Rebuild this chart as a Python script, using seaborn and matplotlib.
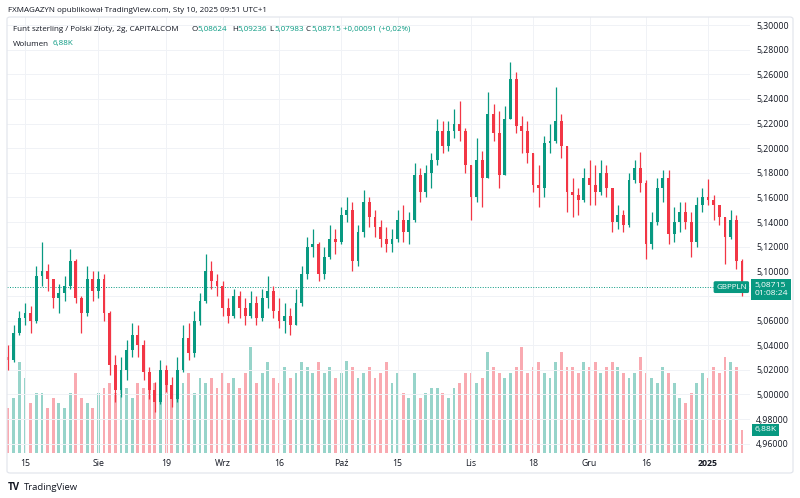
import numpy as np
import pandas as pd
import matplotlib.pyplot as plt
import matplotlib.transforms as mtransforms
from matplotlib.patches import FancyBboxPatch
import seaborn as sns

sns.set_theme(style="white")
plt.rcParams['font.family'] = ['Open Sans', 'DejaVu Sans']

# ---- data: daily GBPPLN candles, Jul 10 2024 -> Jan 10 2025 ----
first_open = 5.030
closes = [
    5.028, 5.050, 5.062, 5.066, 5.060, 5.096, 5.100, 5.094, 5.078, 5.082,
    5.088, 5.108, 5.078, 5.066, 5.094, 5.084, 5.094, 5.066, 5.024, 5.004,
    5.020, 5.036, 5.048, 5.040, 5.018, 5.004, 4.994, 5.020, 5.008, 4.996,
    5.020, 5.046, 5.034, 5.060, 5.076, 5.100, 5.092, 5.088, 5.070, 5.064,
    5.080, 5.070, 5.064, 5.074, 5.062, 5.078, 5.084, 5.068, 5.060, 5.064,
    5.056, 5.074, 5.098, 5.120, 5.122, 5.098, 5.112, 5.126, 5.124, 5.146,
    5.150, 5.108, 5.132, 5.156, 5.144, 5.136, 5.126, 5.122, 5.126, 5.142,
    5.132, 5.142, 5.178, 5.164, 5.180, 5.190, 5.214, 5.202, 5.214, 5.220,
    5.214, 5.186, 5.160, 5.190, 5.176, 5.228, 5.212, 5.178, 5.224, 5.256,
    5.218, 5.214, 5.196, 5.170, 5.168, 5.204, 5.206, 5.222, 5.202, 5.164,
    5.162, 5.158, 5.176, 5.170, 5.164, 5.180, 5.168, 5.140, 5.146, 5.138,
    5.174, 5.184, 5.172, 5.122, 5.140, 5.168, 5.176, 5.130, 5.140, 5.148,
    5.140, 5.124, 5.154, 5.160, 5.158, 5.154, 5.144, 5.128, 5.142, 5.108,
    5.08715]
highs = [
    5.040, 5.056, 5.068, 5.074, 5.072, 5.104, 5.124, 5.106, 5.092, 5.090,
    5.096, 5.118, 5.110, 5.080, 5.104, 5.100, 5.100, 5.098, 5.068, 5.032,
    5.030, 5.044, 5.058, 5.056, 5.044, 5.022, 5.010, 5.028, 5.024, 5.014,
    5.030, 5.056, 5.058, 5.068, 5.082, 5.114, 5.108, 5.098, 5.092, 5.078,
    5.086, 5.084, 5.078, 5.084, 5.080, 5.086, 5.096, 5.088, 5.078, 5.074,
    5.070, 5.086, 5.104, 5.128, 5.134, 5.124, 5.120, 5.138, 5.134, 5.152,
    5.160, 5.156, 5.138, 5.166, 5.160, 5.150, 5.142, 5.136, 5.134, 5.150,
    5.154, 5.148, 5.188, 5.184, 5.186, 5.196, 5.224, 5.222, 5.222, 5.232,
    5.238, 5.216, 5.184, 5.208, 5.198, 5.246, 5.236, 5.230, 5.234, 5.270,
    5.262, 5.226, 5.222, 5.196, 5.186, 5.210, 5.220, 5.250, 5.228, 5.200,
    5.176, 5.168, 5.184, 5.190, 5.186, 5.190, 5.186, 5.164, 5.154, 5.150,
    5.180, 5.190, 5.197, 5.174, 5.148, 5.176, 5.182, 5.182, 5.152, 5.156,
    5.156, 5.148, 5.160, 5.168, 5.175, 5.162, 5.154, 5.142, 5.150, 5.146,
    5.110]
lows = [
    5.020, 5.026, 5.048, 5.056, 5.050, 5.058, 5.088, 5.084, 5.070, 5.066,
    5.076, 5.086, 5.074, 5.050, 5.064, 5.076, 5.078, 5.060, 5.016, 4.994,
    4.998, 5.012, 5.030, 5.030, 5.012, 4.996, 4.986, 4.992, 5.002, 4.990,
    4.994, 5.018, 5.028, 5.030, 5.056, 5.074, 5.086, 5.080, 5.064, 5.058,
    5.062, 5.062, 5.056, 5.062, 5.056, 5.060, 5.070, 5.062, 5.054, 5.050,
    5.048, 5.056, 5.072, 5.094, 5.112, 5.092, 5.094, 5.110, 5.114, 5.122,
    5.140, 5.100, 5.104, 5.128, 5.136, 5.128, 5.120, 5.116, 5.116, 5.124,
    5.124, 5.122, 5.140, 5.156, 5.160, 5.168, 5.186, 5.196, 5.198, 5.208,
    5.206, 5.180, 5.142, 5.156, 5.152, 5.180, 5.206, 5.168, 5.180, 5.226,
    5.212, 5.196, 5.188, 5.164, 5.152, 5.160, 5.196, 5.204, 5.192, 5.148,
    5.144, 5.146, 5.156, 5.154, 5.154, 5.162, 5.160, 5.132, 5.134, 5.132,
    5.136, 5.172, 5.164, 5.110, 5.118, 5.138, 5.156, 5.122, 5.124, 5.132,
    5.134, 5.112, 5.120, 5.148, 5.154, 5.142, 5.138, 5.106, 5.126, 5.102,
    5.0798]
volumes = [  # thousands
    13.5, 16.5, 27, 22.5, 15, 18, 18, 13.5, 16.5, 15,
    13.5, 18, 24, 16.5, 15, 13.5, 18, 19.5, 21, 18,
    22.5, 19.5, 16.5, 21, 19.5, 24, 21, 18, 22.5, 19.5,
    21, 21, 24, 18, 22.5, 21, 22.5, 19.5, 24, 21,
    22.5, 19.5, 24, 31.5, 21, 24, 27, 22.5, 21, 25.5,
    22.5, 24, 27, 25.5, 24, 27, 24, 25.5, 22.5, 24,
    27.5, 25.5, 22.5, 24, 25.5, 22.5, 24, 27, 21, 24,
    18, 16.5, 24, 16.5, 18, 19.5, 19.5, 18, 16.5, 19.5,
    21, 24, 24, 21, 22.5, 30, 25.5, 24, 22.5, 24,
    25.5, 31.5, 24, 25.5, 27, 24, 22.5, 27, 30, 25.5,
    25.5, 24, 27, 25.5, 27, 24, 25.5, 27, 25.5, 24,
    22.5, 24, 28.5, 24, 22.5, 21, 25.5, 24, 21, 16.5,
    15, 18, 21, 24, 22.5, 25.5, 24, 28.5, 27, 25.5,
    6.88]

tick_idx = [3, 16, 28, 38, 48, 59, 69, 82, 93, 103, 113, 124]
tick_labels = ['15', 'Sie', '19', 'Wrz', '16', 'Paź', '15', 'Lis', '18', 'Gru', '16', '2025']
price_ticks = [4.96, 4.98, 5.00, 5.02, 5.04, 5.06, 5.08, 5.10, 5.12, 5.14,
               5.16, 5.18, 5.20, 5.22, 5.24, 5.26, 5.28, 5.30]

UP, DOWN, TXT, GRID = '#089981', '#F23645', '#131722', '#F0F2F6'
FS = 5.8

df = pd.DataFrame({'close': closes, 'high': highs, 'low': lows, 'volume': volumes})
df['open'] = [first_open] + closes[:-1]
df['high'] = df[['high', 'open', 'close']].max(axis=1)
df['low'] = df[['low', 'open', 'close']].min(axis=1)
df['up'] = df['close'] >= df['open']
x = np.arange(len(df))
colors = np.where(df['up'], UP, DOWN)

W, H = 800, 498
fx = lambda px: px / W
fy = lambda py: 1 - py / H

fig = plt.figure(figsize=(8, 4.98), dpi=100)
fig.patch.set_facecolor('white')
ax = fig.add_axes([fx(7), fy(453), fx(750) - fx(7), fy(17) - fy(453)])
axv = ax.twinx()
ax.set_zorder(axv.get_zorder() + 1)
ax.patch.set_visible(False)

# volume overlay
axv.bar(x, df['volume'], width=0.5, color=colors, alpha=0.42, linewidth=0)
axv.set_ylim(0, 130)
axv.set_axis_off()

# candles
ax.vlines(x, df['low'], df['high'], colors=colors, linewidth=0.9, zorder=3)
body_lo = df[['open', 'close']].min(axis=1)
body_h = (df['close'] - df['open']).abs().clip(lower=0.0008)
ax.bar(x, body_h, bottom=body_lo, width=0.5, color=colors, linewidth=0, zorder=4)

ax.set_xlim(-0.19, 131.43)
ax.set_ylim(4.95245, 5.3065)
ax.set_yticks(price_ticks)
# TradingView hides the scale label that sits under the last-price box
ax.set_yticklabels(['' if abs(v - 5.08) < 1e-9 else f'{v:.5f}'.replace('.', ',') for v in price_ticks])
ax.yaxis.tick_right()
ax.set_xticks(tick_idx)
ax.set_xticklabels(tick_labels)
ax.get_xticklabels()[-1].set_fontweight('bold')
ax.tick_params(axis='y', length=0, pad=4.5, labelsize=6.3, colors=TXT)
ax.tick_params(axis='x', length=0, pad=4.5, labelsize=6.3, colors=TXT)
ax.grid(True, color=GRID, linewidth=0.7)
sns.despine(ax=ax, left=True, bottom=True, right=True, top=True)

# last price line + labels
last = df['close'].iloc[-1]
ax.axhline(last, color=UP, linewidth=0.7, linestyle=(0, (1, 1.6)), zorder=2)
blend = mtransforms.blended_transform_factory(ax.transAxes, ax.transData)
ax.text(0.9955, last, 'GBPPLN', transform=blend, ha='right', va='center', fontsize=5.8,
        color='white', zorder=6, bbox=dict(boxstyle='round,pad=0.3,rounding_size=0.2', fc=UP, ec='none'))
ax.annotate('5,08715\n01:08:24', xy=(1, last), xycoords=blend, xytext=(3, 3.5), textcoords='offset points',
            ha='left', va='top', fontsize=6.1, color='white', linespacing=1.15, annotation_clip=False,
            bbox=dict(boxstyle='square,pad=0.35', fc=UP, ec='none'))
blend_v = mtransforms.blended_transform_factory(axv.transAxes, axv.transData)
axv.annotate('6,88K', xy=(1, volumes[-1]), xycoords=blend_v, xytext=(3, 0), textcoords='offset points',
             ha='left', va='center', fontsize=6.1, color='white', annotation_clip=False,
             bbox=dict(boxstyle='square,pad=0.3', fc=UP, ec='none'))

# header
fig.text(fx(8), fy(10), 'FXMAGAZYN opublikował TradingView.com, Sty 10, 2025 09:51 UTC+1',
         fontsize=FS, color=TXT, va='center')
fig.text(fx(13), fy(29), 'Funt szterling / Polski Złoty, 2g, CAPITALCOM', fontsize=FS, color=TXT, va='center')
for px, lab, val in [(192, 'O', '5,08624'), (232, 'H', '5,09236'), (269, 'L', '5,07983'), (306, 'C', '5,08715')]:
    fig.text(fx(px), fy(29), lab, fontsize=FS, color=TXT, va='center')
    fig.text(fx(px + 5.5), fy(29), val, fontsize=FS, color=UP, va='center')
fig.text(fx(343), fy(29), '+0,00091 (+0,02%)', fontsize=FS, color=UP, va='center')
fig.text(fx(13), fy(44), 'Wolumen', fontsize=FS, color=TXT, va='center')
fig.text(fx(53), fy(44), '6,88K', fontsize=FS, color=UP, va='center')

# frame + footer
fig.patches.append(FancyBboxPatch((fx(7), fy(473)), fx(793) - fx(7), fy(17) - fy(473),
                                  boxstyle='round,pad=0,rounding_size=0.004', transform=fig.transFigure,
                                  fc='none', ec='#E0E3EB', lw=0.8))
fig.text(fx(8), fy(487), 'TV', fontsize=7, fontweight='bold', color=TXT, va='center')
fig.text(fx(24), fy(487), 'TradingView', fontsize=6.8, color=TXT, va='center')

fig.savefig('out.png', dpi=100, facecolor='white')
